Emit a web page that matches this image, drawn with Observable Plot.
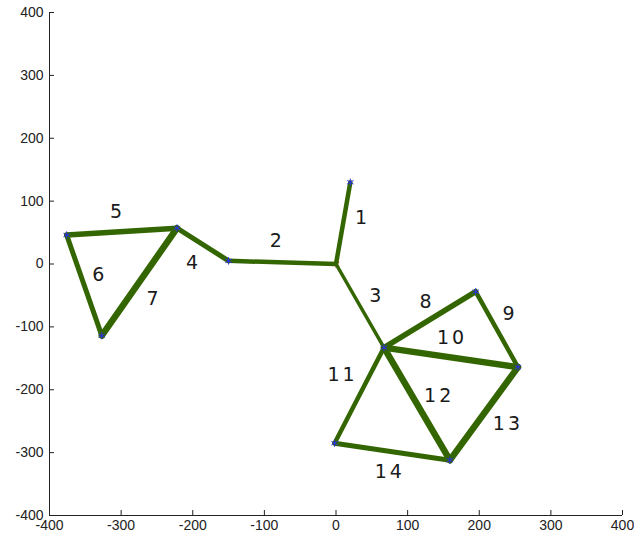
<!DOCTYPE html>
<html>
<head>
<meta charset="utf-8">
<script src="https://cdn.jsdelivr.net/npm/d3@7"></script>
<script src="https://cdn.jsdelivr.net/npm/@observablehq/plot@0.6"></script>
<style>
  html, body { margin: 0; padding: 0; background: #fff; }
  #chart svg { display: block; }
  #chart g.member-labels text { letter-spacing: 3px; }
</style>
</head>
<body>
<div id="chart"></div>
<script>
// Node coordinates
const nodeX = [0, 20, -150, -222, -376, -327, 67, 195, 254, -2, 159];
const nodeY = [0, 130, 5, 57, 46, -114, -133, -44, -164, -285, -312];

// Members (edges) between nodes
const memberIds  = [1, 2, 3, 4, 5, 6, 7, 8, 9, 10, 11, 12, 13, 14];
const memberFrom = [0, 0, 0, 2, 3, 4, 5, 6, 7, 6, 6, 6, 10, 9];
const memberTo   = [1, 2, 6, 3, 4, 5, 3, 7, 8, 8, 9, 10, 8, 10];
// Relative member size (drawn as stroke width)
const memberSize = [4.5, 4.5, 3.5, 5, 5.5, 5, 6.5, 5.5, 4.5, 6.5, 4.5, 6.5, 6.5, 5];

// Member label anchor positions (data units)
const labelX = [35, -84, 55, -201, -307, -332, -256, 125, 241, 160, 7, 142, 238, 73];
const labelY = [74, 36, -50, 1, 83, -18, -56, -60, -79, -118, -177, -209, -255, -330];

// Axis ticks
const xTicks = [-400, -300, -200, -100, 0, 100, 200, 300, 400];
const yTicks = [-400, -300, -200, -100, 0, 100, 200, 300, 400];

const nodes = nodeX.map((x, i) => ({x, y: nodeY[i]}));
const members = memberIds.map((id, i) => ({
  id,
  x1: nodeX[memberFrom[i]], y1: nodeY[memberFrom[i]],
  x2: nodeX[memberTo[i]],   y2: nodeY[memberTo[i]],
  w: memberSize[i],
  lx: labelX[i], ly: labelY[i],
  label: String(id)
}));

const fmt = d => String(d);

const chart = Plot.plot({
  width: 634,
  height: 539,
  marginLeft: 49,
  marginRight: 12,
  marginTop: 12,
  marginBottom: 24,
  style: {fontFamily: "'Liberation Sans', Arial, sans-serif", background: "#fff"},
  x: {domain: [-400, 400], ticks: xTicks},
  y: {domain: [-400, 400], ticks: yTicks},
  marks: [
    // axis lines
    Plot.ruleX([-400], {stroke: "#222", strokeWidth: 1}),
    Plot.ruleY([-400], {stroke: "#222", strokeWidth: 1}),
    // inward ticks
    Plot.ruleY(yTicks, {x1: -400, x2: -400, insetRight: -5, stroke: "#222"}),
    Plot.ruleX(xTicks, {y1: -400, y2: -400, insetTop: -5, stroke: "#222"}),
    Plot.axisX(xTicks, {tickSize: 0, tickPadding: 5, fontSize: 14, fill: "#222", label: null, tickFormat: fmt}),
    Plot.axisY(yTicks, {tickSize: 0, tickPadding: 6, fontSize: 14, fill: "#222", label: null, tickFormat: fmt}),
    // origin support marker
    Plot.dot([nodes[0]], {x: "x", y: "y", symbol: "asterisk", r: 3.5, stroke: "red", strokeWidth: 1}),
    // members
    Plot.link(members, {
      x1: "x1", y1: "y1", x2: "x2", y2: "y2",
      stroke: "#336600",
      strokeWidth: d => d.w,
      strokeLinecap: "round",
      strokeLinejoin: "round"
    }),
    // nodes
    Plot.dot(nodes.slice(1), {x: "x", y: "y", symbol: "asterisk", r: 3.5, stroke: "#2a2aff", strokeWidth: 0.9}),
    // labels
    Plot.text(members, {
      x: "lx", y: "ly", text: "label",
      dx: 1.5,
      fontSize: 19,
      fontFamily: "'DejaVu Sans', sans-serif",
      fill: "#1a1a1a",
      className: "member-labels"
    })
  ]
});

// apply spacing to member labels (fallback if className isn't supported)
d3.select(chart).selectAll("g[aria-label='text'] text").style("letter-spacing", "3px");

document.getElementById("chart").appendChild(chart);
</script>
</body>
</html>
